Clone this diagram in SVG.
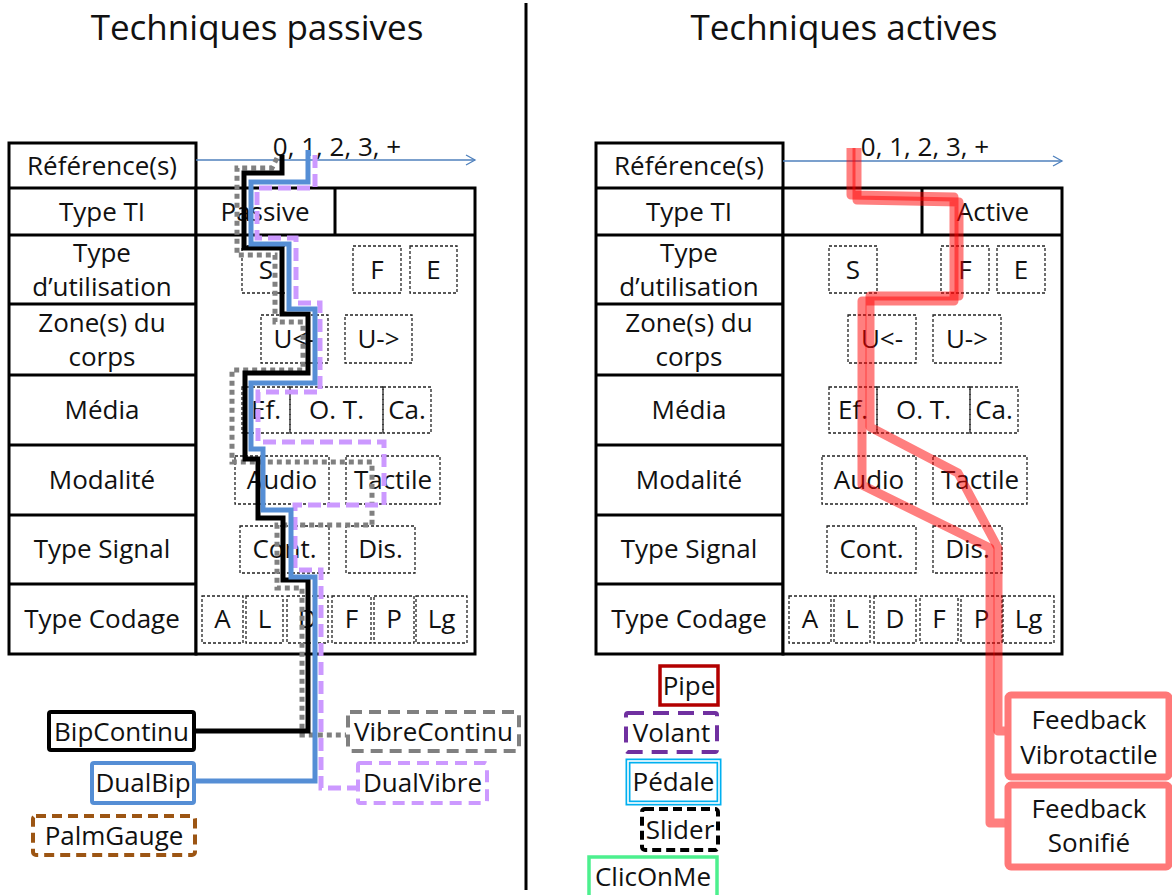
<svg xmlns="http://www.w3.org/2000/svg" width="1172" height="895" viewBox="0 0 1172 895">
<style>
.t{font-family:"Open Sans","Liberation Sans",sans-serif;font-size:26px;fill:#111;text-anchor:middle}
.title{font-family:"Open Sans","Liberation Sans",sans-serif;font-size:35px;fill:#111;text-anchor:middle}
.grid{fill:#fff;stroke:#000;stroke-width:3}
.ln{stroke:#000;stroke-width:3;fill:none}
.opt{fill:none;stroke:#222;stroke-width:1.3;stroke-dasharray:3 2}
.axis{stroke:#4f81bd;stroke-width:1.3;fill:none}
.p{fill:none;stroke-width:5;stroke-linejoin:miter}
.red{fill:none;stroke:#ff0000;stroke-opacity:0.5;stroke-width:9;stroke-linejoin:round}
</style>
<defs>
<marker id="arr" markerWidth="12" markerHeight="12" refX="10" refY="6" orient="auto" markerUnits="userSpaceOnUse">
<path d="M1,1 L10,6 L1,11" fill="none" stroke="#4f81bd" stroke-width="1.3"/>
</marker>
</defs>
<rect width="1172" height="895" fill="#fff"/>

<g id="titles">
<text class="title" x="257" y="40">Techniques passives</text>
<text class="title" x="844" y="40">Techniques actives</text>
</g>
<line id="divider" x1="526" y1="3" x2="526" y2="890" stroke="#000" stroke-width="3"/>

<!-- LEFT TABLE -->
<g id="table-passive">
<rect class="grid" x="9" y="143" width="187" height="511"/>
<rect class="grid" x="196" y="188" width="279" height="466"/>
<path class="ln" d="M9,188H196M9,235H475M9,304H196M9,375H196M9,445H196M9,515H196M9,584H196M335,188V235"/>
<line class="axis" x1="196" y1="160" x2="475" y2="160" marker-end="url(#arr)"/>
<text class="t" x="337" y="156">0, 1, 2, 3, +</text>
<text class="t" x="102" y="175">Référence(s)</text>
<text class="t" x="102" y="221">Type TI</text>
<text class="t" x="102" y="262">Type</text>
<text class="t" x="102" y="296">d’utilisation</text>
<text class="t" x="102" y="332">Zone(s) du</text>
<text class="t" x="102" y="366">corps</text>
<text class="t" x="102" y="419">Média</text>
<text class="t" x="102" y="489">Modalité</text>
<text class="t" x="102" y="558">Type Signal</text>
<text class="t" x="102" y="628">Type Codage</text>
<text class="t" x="265" y="221">Passive</text>
</g>
<g id="options-passive">
<g id="lp-S"><rect class="opt" x="242" y="246" width="48" height="47"/><text class="t" x="266" y="279">S</text></g>
<g id="lp-F"><rect class="opt" x="353" y="246" width="48" height="47"/><text class="t" x="377" y="279">F</text></g>
<g id="lp-E"><rect class="opt" x="410" y="246" width="47" height="47"/><text class="t" x="433.5" y="279">E</text></g>
<g id="lp-Uleft"><rect class="opt" x="261" y="315" width="67" height="48"/><text class="t" x="294.5" y="348">U&lt;-</text></g>
<g id="lp-Uright"><rect class="opt" x="345" y="315" width="67" height="48"/><text class="t" x="378.5" y="348">U-&gt;</text></g>
<g id="lp-Ef"><rect class="opt" x="242" y="387" width="48" height="46"/><text class="t" x="266" y="419">Ef.</text></g>
<g id="lp-OT"><rect class="opt" x="290" y="387" width="93" height="46"/><text class="t" x="336.5" y="419">O. T.</text></g>
<g id="lp-Ca"><rect class="opt" x="383" y="387" width="48" height="46"/><text class="t" x="407" y="419">Ca.</text></g>
<g id="lp-Audio"><rect class="opt" x="235" y="456" width="94" height="48"/><text class="t" x="282" y="489">Audio</text></g>
<g id="lp-Tactile"><rect class="opt" x="346" y="456" width="94" height="48"/><text class="t" x="393" y="489">Tactile</text></g>
<g id="lp-Cont"><rect class="opt" x="240" y="526" width="89" height="47"/><text class="t" x="284.5" y="558">Cont.</text></g>
<g id="lp-Dis"><rect class="opt" x="346" y="526" width="69" height="47"/><text class="t" x="380.5" y="558">Dis.</text></g>
<g id="lp-A"><rect class="opt" x="202" y="596" width="41" height="47"/><text class="t" x="222.5" y="628">A</text></g>
<g id="lp-L"><rect class="opt" x="246" y="596" width="37" height="47"/><text class="t" x="264.5" y="628">L</text></g>
<g id="lp-D"><rect class="opt" x="287" y="596" width="41" height="47"/><text class="t" x="307.5" y="628">D</text></g>
<g id="lp-Fc"><rect class="opt" x="332" y="596" width="39" height="47"/><text class="t" x="351.5" y="628">F</text></g>
<g id="lp-P"><rect class="opt" x="374" y="596" width="40" height="47"/><text class="t" x="394" y="628">P</text></g>
<g id="lp-Lg"><rect class="opt" x="416" y="596" width="51" height="47"/><text class="t" x="441.5" y="628">Lg</text></g>
</g>

<!-- RIGHT TABLE -->
<g id="table-active">
<rect class="grid" x="596" y="143" width="187" height="511"/>
<rect class="grid" x="783" y="188" width="279" height="466"/>
<path class="ln" d="M596,188H783M596,235H1062M596,304H783M596,375H783M596,445H783M596,515H783M596,584H783M922,188V235"/>
<line class="axis" x1="783" y1="161" x2="1062" y2="161" marker-end="url(#arr)"/>
<text class="t" x="925" y="156">0, 1, 2, 3, +</text>
<text class="t" x="689" y="175">Référence(s)</text>
<text class="t" x="689" y="221">Type TI</text>
<text class="t" x="689" y="262">Type</text>
<text class="t" x="689" y="296">d’utilisation</text>
<text class="t" x="689" y="332">Zone(s) du</text>
<text class="t" x="689" y="366">corps</text>
<text class="t" x="689" y="419">Média</text>
<text class="t" x="689" y="489">Modalité</text>
<text class="t" x="689" y="558">Type Signal</text>
<text class="t" x="689" y="628">Type Codage</text>
<text class="t" x="993" y="221">Active</text>
</g>
<g id="options-active">
<g id="ra-S"><rect class="opt" x="829" y="246" width="48" height="47"/><text class="t" x="853" y="279">S</text></g>
<g id="ra-F"><rect class="opt" x="941" y="246" width="48" height="47"/><text class="t" x="965" y="279">F</text></g>
<g id="ra-E"><rect class="opt" x="997" y="246" width="48" height="47"/><text class="t" x="1021" y="279">E</text></g>
<g id="ra-Uleft"><rect class="opt" x="848" y="315" width="68" height="48"/><text class="t" x="882" y="348">U&lt;-</text></g>
<g id="ra-Uright"><rect class="opt" x="933" y="315" width="68" height="48"/><text class="t" x="967" y="348">U-&gt;</text></g>
<g id="ra-Ef"><rect class="opt" x="829" y="387" width="48" height="46"/><text class="t" x="853" y="419">Ef.</text></g>
<g id="ra-OT"><rect class="opt" x="877" y="387" width="93" height="46"/><text class="t" x="923.5" y="419">O. T.</text></g>
<g id="ra-Ca"><rect class="opt" x="970" y="387" width="48" height="46"/><text class="t" x="994" y="419">Ca.</text></g>
<g id="ra-Audio"><rect class="opt" x="822" y="456" width="94" height="48"/><text class="t" x="869" y="489">Audio</text></g>
<g id="ra-Tactile"><rect class="opt" x="933" y="456" width="94" height="48"/><text class="t" x="980" y="489">Tactile</text></g>
<g id="ra-Cont"><rect class="opt" x="827" y="526" width="89" height="47"/><text class="t" x="871.5" y="558">Cont.</text></g>
<g id="ra-Dis"><rect class="opt" x="933" y="526" width="69" height="47"/><text class="t" x="967.5" y="558">Dis.</text></g>
<g id="ra-A"><rect class="opt" x="789" y="596" width="42" height="47"/><text class="t" x="810" y="628">A</text></g>
<g id="ra-L"><rect class="opt" x="834" y="596" width="36" height="47"/><text class="t" x="852" y="628">L</text></g>
<g id="ra-D"><rect class="opt" x="874" y="596" width="42" height="47"/><text class="t" x="895" y="628">D</text></g>
<g id="ra-Fc"><rect class="opt" x="920" y="596" width="38" height="47"/><text class="t" x="939" y="628">F</text></g>
<g id="ra-P"><rect class="opt" x="961" y="596" width="41" height="47"/><text class="t" x="981.5" y="628">P</text></g>
<g id="ra-Lg"><rect class="opt" x="1003" y="596" width="51" height="47"/><text class="t" x="1028.5" y="628">Lg</text></g>
</g>

<!-- CONNECTORS -->
<g id="connectors">
<path class="p" stroke="#808080" stroke-dasharray="5 4" d="M277,158 L272,168 L237,168 L237,255 L275,255 L275,322 L303,322 L303,370 L232,370 L232,462 L372,462 L372,525 L277,525 L277,588 L302,588 L302,735 L346,735"/>
<path class="p" stroke="#cc99ff" stroke-dasharray="13 6" d="M315,155 L315,188 L257,188 L257,238 L296,238 L296,303 L320,303 L320,392 L258,392 L258,442 L384,442 L384,505 L295,505 L295,570 L321,570 L321,788 L358,788"/>
<path class="p" stroke="#000" d="M282,155 L282,173 L244,173 L244,248 L282,248 L282,314 L308,314 L308,373 L245,373 L245,459 L258,459 L258,518 L283,518 L283,580 L308,580 L308,731 L194,731"/>
<path class="p" stroke="#558ed5" d="M308,150 L308,182 L251,182 L251,244 L289,244 L289,309 L315,309 L315,383 L251,383 L251,449 L263,449 L263,510 L291,510 L291,577 L315,577 L315,781 L194,781"/>
<path class="red" d="M851,148 V195 L954,197 V301 H862 V485 L990,548 V823 H1008"/>
<path class="red" d="M857,148 V200 L959,202 V296 H870 V427 L958,473 L998,548 V731 H1008"/>
</g>

<!-- LEGEND NODES LEFT -->
<g id="n-BipContinu"><rect x="49" y="712" width="145" height="38" rx="2" fill="#fff" stroke="#000" stroke-width="4"/><text class="t" x="121.5" y="741">BipContinu</text></g>
<g id="n-DualBip"><rect x="92" y="763" width="102" height="40" rx="2" fill="#fff" stroke="#558ed5" stroke-width="4"/><text class="t" x="143" y="792">DualBip</text></g>
<g id="n-PalmGauge"><rect x="33" y="816" width="162" height="39" rx="3" fill="#fff" stroke="#9c5513" stroke-width="4" stroke-dasharray="10 6"/><text class="t" x="114" y="845">PalmGauge</text></g>
<g id="n-VibreContinu"><rect x="348" y="712" width="171" height="39" rx="2" fill="#fff" stroke="#808080" stroke-width="4" stroke-dasharray="12 7"/><text class="t" x="433.5" y="741">VibreContinu</text></g>
<g id="n-DualVibre"><rect x="358" y="763" width="129" height="40" rx="2" fill="#fff" stroke="#cc99ff" stroke-width="4" stroke-dasharray="12 7"/><text class="t" x="422.5" y="792">DualVibre</text></g>

<!-- LEGEND NODES RIGHT -->
<g id="n-Pipe"><rect x="660" y="666" width="58" height="39" fill="#fff" stroke="#b30000" stroke-width="3.5"/><text class="t" x="689" y="695">Pipe</text></g>
<g id="n-Volant"><rect x="626" y="713" width="91" height="39" rx="2" fill="#fff" stroke="#7030a0" stroke-width="4" stroke-dasharray="16 9"/><text class="t" x="671.5" y="742">Volant</text></g>
<g id="n-Pedale"><rect x="628" y="761" width="91" height="42" fill="#fff" stroke="#00b0f0" stroke-width="5"/><rect x="628" y="761" width="91" height="42" fill="none" stroke="#fff" stroke-width="1.6"/><text class="t" x="673.5" y="791">Pédale</text></g>
<g id="n-Slider"><rect x="642" y="809" width="76" height="41" rx="3" fill="#fff" stroke="#000" stroke-width="4" stroke-dasharray="9 5"/><text class="t" x="680" y="839">Slider</text></g>
<g id="n-ClicOnMe"><rect x="589" y="857" width="128" height="42" fill="#fff" stroke="#4cf08e" stroke-width="3.5"/><text class="t" x="653" y="886">ClicOnMe</text></g>
<g id="n-FeedbackVibro"><rect x="1008" y="695" width="161" height="82" rx="3" fill="#fff" stroke="#ff7878" stroke-width="7"/><text class="t" x="1089" y="729">Feedback</text><text class="t" x="1089" y="764">Vibrotactile</text></g>
<g id="n-FeedbackSon"><rect x="1008" y="785" width="161" height="82" rx="3" fill="#fff" stroke="#ff7878" stroke-width="7"/><text class="t" x="1089" y="818">Feedback</text><text class="t" x="1089" y="852">Sonifié</text></g>
</svg>
